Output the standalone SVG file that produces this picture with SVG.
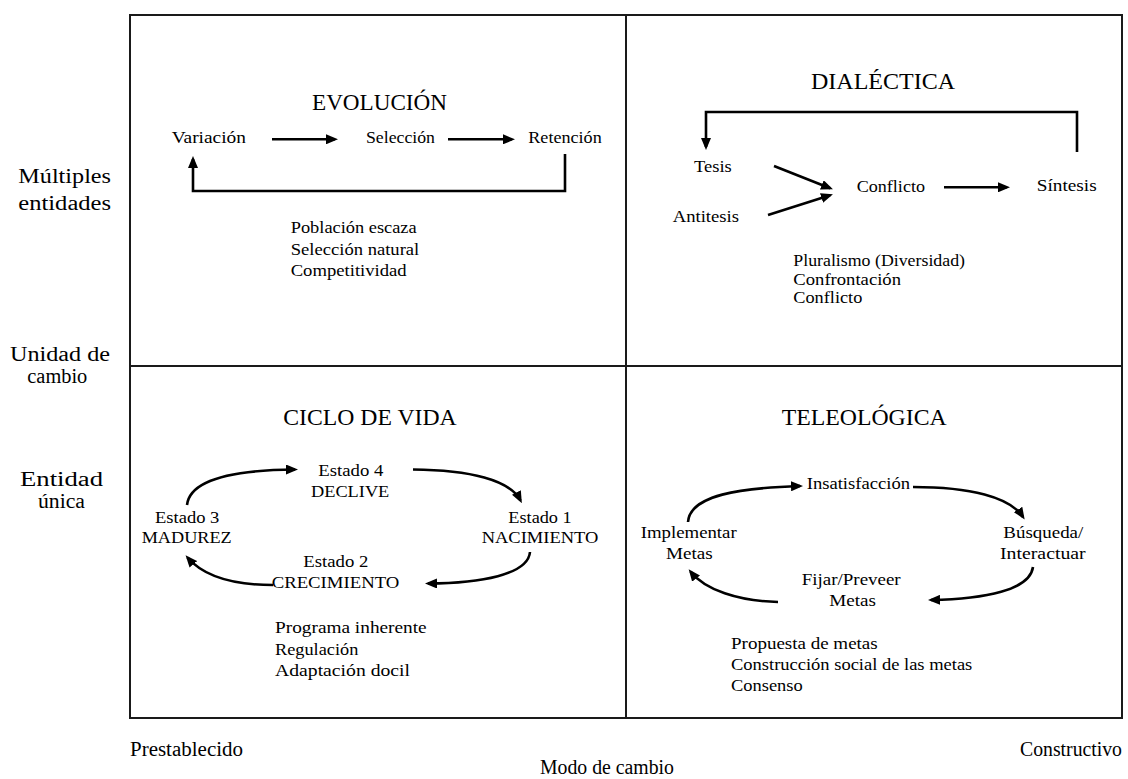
<svg xmlns="http://www.w3.org/2000/svg" width="1128" height="779" viewBox="0 0 1128 779">
<style>
text{font-family:"Liberation Serif","Times New Roman",serif;fill:#000}
.t{font-size:24px}
.n{font-size:17px}
.a{font-size:20px}
.frame{fill:none;stroke:#1a1a1a;stroke-width:2}
.c{fill:none;stroke:#000;stroke-width:2.6}
</style>
<defs>
<marker id="ah" markerUnits="userSpaceOnUse" markerWidth="12" markerHeight="10" refX="9" refY="5" orient="auto">
<path d="M0,0 L12,5 L0,10 z" fill="#000"/>
</marker>
</defs>
<g id="frame">
<rect class="frame" x="130" y="15" width="992" height="703"/>
<line class="frame" x1="626" y1="15" x2="626" y2="718"/>
<line class="frame" x1="130" y1="366" x2="1122" y2="366"/>
</g>
<g id="axis-labels">
<text class="a" x="18.3" y="183.3" textLength="92.7" lengthAdjust="spacingAndGlyphs">Múltiples</text>
<text class="a" x="18.3" y="210" textLength="92.7" lengthAdjust="spacingAndGlyphs">entidades</text>
<text class="a" x="10" y="361" textLength="100" lengthAdjust="spacingAndGlyphs">Unidad de</text>
<text class="a" x="27.3" y="383" textLength="60" lengthAdjust="spacingAndGlyphs">cambio</text>
<text class="a" x="20" y="486" textLength="83" lengthAdjust="spacingAndGlyphs">Entidad</text>
<text class="a" x="38" y="508" textLength="47" lengthAdjust="spacingAndGlyphs">única</text>
<text class="a" x="130" y="755.5" textLength="113" lengthAdjust="spacingAndGlyphs">Prestablecido</text>
<text class="a" x="1020" y="755.5" textLength="102" lengthAdjust="spacingAndGlyphs">Constructivo</text>
<text class="a" x="540" y="774" textLength="134" lengthAdjust="spacingAndGlyphs">Modo de cambio</text>
</g>
<g id="evolucion">
<text class="t" x="312" y="109.5" textLength="135" lengthAdjust="spacingAndGlyphs">EVOLUCIÓN</text>
<g id="variacion"><text class="n" x="171.7" y="143.3" textLength="74.3" lengthAdjust="spacingAndGlyphs">Variación</text></g>
<g id="seleccion"><text class="n" x="366" y="143.3" textLength="69" lengthAdjust="spacingAndGlyphs">Selección</text></g>
<g id="retencion"><text class="n" x="528.3" y="143.3" textLength="73.4" lengthAdjust="spacingAndGlyphs">Retención</text></g>
<g id="evolucion-notes">
<text class="n" x="290.7" y="233.3" textLength="126" lengthAdjust="spacingAndGlyphs">Población escaza</text>
<text class="n" x="290.7" y="254.5" textLength="128.6" lengthAdjust="spacingAndGlyphs">Selección natural</text>
<text class="n" x="290.7" y="275.5" textLength="116" lengthAdjust="spacingAndGlyphs">Competitividad</text>
</g>
</g>
<g id="dialectica">
<text class="t" x="811" y="88.5" textLength="144" lengthAdjust="spacingAndGlyphs">DIALÉCTICA</text>
<g id="tesis"><text class="n" x="694" y="171.7" textLength="37.7" lengthAdjust="spacingAndGlyphs">Tesis</text></g>
<g id="antitesis"><text class="n" x="672.7" y="221.7" textLength="66.3" lengthAdjust="spacingAndGlyphs">Antitesis</text></g>
<g id="conflicto"><text class="n" x="856.7" y="191.7" textLength="68.3" lengthAdjust="spacingAndGlyphs">Conflicto</text></g>
<g id="sintesis"><text class="n" x="1036.7" y="191" textLength="60" lengthAdjust="spacingAndGlyphs">Síntesis</text></g>
<g id="dialectica-notes">
<text class="n" x="793.3" y="266" textLength="171.7" lengthAdjust="spacingAndGlyphs">Pluralismo (Diversidad)</text>
<text class="n" x="793.3" y="284.5" textLength="107.7" lengthAdjust="spacingAndGlyphs">Confrontación</text>
<text class="n" x="793.3" y="303" textLength="69" lengthAdjust="spacingAndGlyphs">Conflicto</text>
</g>
</g>
<g id="ciclo-de-vida">
<text class="t" x="283.3" y="425" textLength="173.4" lengthAdjust="spacingAndGlyphs">CICLO DE VIDA</text>
<g id="estado4"><text class="n" x="318.3" y="476" textLength="65" lengthAdjust="spacingAndGlyphs">Estado 4</text><text class="n" x="311" y="496.7" textLength="78.3" lengthAdjust="spacingAndGlyphs">DECLIVE</text></g>
<g id="estado3"><text class="n" x="155" y="522.7" textLength="64.3" lengthAdjust="spacingAndGlyphs">Estado 3</text><text class="n" x="141.7" y="543.3" textLength="90" lengthAdjust="spacingAndGlyphs">MADUREZ</text></g>
<g id="estado1"><text class="n" x="508.3" y="522.7" textLength="63.4" lengthAdjust="spacingAndGlyphs">Estado 1</text><text class="n" x="481.7" y="543.3" textLength="116.6" lengthAdjust="spacingAndGlyphs">NACIMIENTO</text></g>
<g id="estado2"><text class="n" x="303.3" y="567.3" textLength="65" lengthAdjust="spacingAndGlyphs">Estado 2</text><text class="n" x="271.7" y="588.3" textLength="127.6" lengthAdjust="spacingAndGlyphs">CRECIMIENTO</text></g>
<g id="ciclo-notes">
<text class="n" x="275" y="633.3" textLength="151.7" lengthAdjust="spacingAndGlyphs">Programa inherente</text>
<text class="n" x="275" y="655" textLength="83.3" lengthAdjust="spacingAndGlyphs">Regulación</text>
<text class="n" x="275" y="676" textLength="135" lengthAdjust="spacingAndGlyphs">Adaptación docil</text>
</g>
</g>
<g id="teleologica">
<text class="t" x="781.7" y="425" textLength="165" lengthAdjust="spacingAndGlyphs">TELEOLÓGICA</text>
<g id="insatisfaccion"><text class="n" x="806.7" y="489.3" textLength="103.3" lengthAdjust="spacingAndGlyphs">Insatisfacción</text></g>
<g id="implementar"><text class="n" x="640.7" y="538.3" textLength="96" lengthAdjust="spacingAndGlyphs">Implementar</text><text class="n" x="666" y="559" textLength="46.7" lengthAdjust="spacingAndGlyphs">Metas</text></g>
<g id="busqueda"><text class="n" x="1003.3" y="538.3" textLength="80" lengthAdjust="spacingAndGlyphs">Búsqueda/</text><text class="n" x="1000" y="559" textLength="85.7" lengthAdjust="spacingAndGlyphs">Interactuar</text></g>
<g id="fijar"><text class="n" x="801.7" y="585" textLength="99" lengthAdjust="spacingAndGlyphs">Fijar/Preveer</text><text class="n" x="829.3" y="605.7" textLength="46.7" lengthAdjust="spacingAndGlyphs">Metas</text></g>
<g id="teleologica-notes">
<text class="n" x="731" y="649.3" textLength="146.7" lengthAdjust="spacingAndGlyphs">Propuesta de metas</text>
<text class="n" x="731" y="670" textLength="241.3" lengthAdjust="spacingAndGlyphs">Construcción social de las metas</text>
<text class="n" x="731" y="690.7" textLength="71.7" lengthAdjust="spacingAndGlyphs">Consenso</text>
</g>
</g>
<g id="connectors">
<line class="c" x1="272" y1="139.3" x2="335" y2="139.3" marker-end="url(#ah)"/>
<line class="c" x1="448" y1="139.3" x2="512" y2="139.3" marker-end="url(#ah)"/>
<polyline class="c" points="565,154 565,191 193,191 193,159" marker-end="url(#ah)"/>
<polyline class="c" points="1077,152 1077,112 706,112 706,147" marker-end="url(#ah)"/>
<line class="c" x1="774" y1="166" x2="830.2" y2="188.2" marker-end="url(#ah)"/>
<line class="c" x1="768" y1="215" x2="830.1" y2="195.2" marker-end="url(#ah)"/>
<line class="c" x1="944" y1="187.3" x2="1007" y2="187.3" marker-end="url(#ah)"/>
<path class="c" d="M187,505 C190,478 240,470 295,469.5" marker-end="url(#ah)"/>
<path class="c" d="M413,469.5 C470,470 510,480 520.5,500.5" marker-end="url(#ah)"/>
<path class="c" d="M530,552 C528,575 480,583 428,583.5" marker-end="url(#ah)"/>
<path class="c" d="M273,585 C235,585 205,578 187.5,557.5" marker-end="url(#ah)"/>
<path class="c" d="M688,522 C690,495 740,488 800,486" marker-end="url(#ah)"/>
<path class="c" d="M913,487 C970,487 1010,497 1023,517" marker-end="url(#ah)"/>
<path class="c" d="M1033,567 C1030,590 985,599 931,600" marker-end="url(#ah)"/>
<path class="c" d="M778,602 C738,601 705,590 690.5,571.5" marker-end="url(#ah)"/>
</g>
</svg>
